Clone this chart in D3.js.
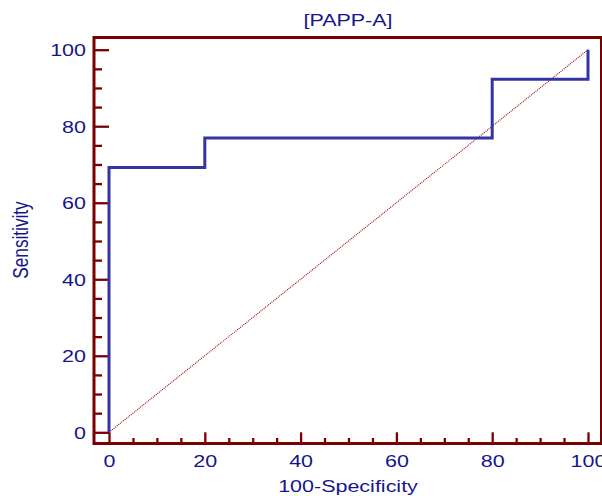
<!DOCTYPE html>
<html>
<head>
<meta charset="utf-8">
<script src="https://cdn.jsdelivr.net/npm/d3@7"></script>
<style>
  body { margin: 0; background: #fff; }
  text { font-family: "Liberation Sans", Arial, sans-serif; }
</style>
</head>
<body>
<div id="graph"></div>
<script>
// ROC curve points (100-Specificity, Sensitivity)
const specificity = [0, 0, 20, 20, 80, 80, 100, 100];
const sensitivity = [0, 69.2, 69.2, 76.9, 76.9, 92.3, 92.3, 100];
const majorTicks = [0, 20, 40, 60, 80, 100];
const minorTicks = [5, 10, 15, 25, 30, 35, 45, 50, 55, 65, 70, 75, 85, 90, 95];

const largeur = 602, hauteur = 496;
const axisColor = "#7a0000", textColor = "#16168a", rocColor = "#3535a2";
const sx = 1.25; // texte étiré horizontalement
const taille = "17.2px";

const svg = d3.select("#graph").append("svg")
    .attr("width", largeur)
    .attr("height", hauteur);

const echelleX = d3.scaleLinear().domain([0, 100]).range([109, 588]);
const echelleY = d3.scaleLinear().domain([0, 100]).range([432.3, 49.7]);

const frameLeft = 94, frameTop = 37.5, frameRight = 601.5, frameBottom = 443.5;

// cadre
svg.append("rect")
    .attr("x", frameLeft).attr("y", frameTop)
    .attr("width", frameRight - frameLeft)
    .attr("height", frameBottom - frameTop)
    .attr("fill", "none")
    .attr("stroke", axisColor)
    .attr("stroke-width", 3);

// axe Y : graduations vers l'intérieur
const axeYMajor = d3.axisLeft(echelleY).tickValues(majorTicks)
    .tickSizeInner(-(echelleX(0) - frameLeft)).tickSizeOuter(0).tickPadding(8);
const gy = svg.append("g").attr("transform", "translate(" + frameLeft + ",0)").call(axeYMajor);
const axeYMinor = d3.axisLeft(echelleY).tickValues(minorTicks)
    .tickSizeInner(-8).tickSizeOuter(0).tickFormat("");
const gy2 = svg.append("g").attr("transform", "translate(" + frameLeft + ",0)").call(axeYMinor);

// axe X : graduations vers le haut
const axeXMajor = d3.axisBottom(echelleX).tickValues(majorTicks)
    .tickSizeInner(-(frameBottom - echelleY(0))).tickSizeOuter(0).tickPadding(0);
const gx = svg.append("g").attr("transform", "translate(0," + frameBottom + ")").call(axeXMajor);
const axeXMinor = d3.axisBottom(echelleX).tickValues(minorTicks)
    .tickSizeInner(-5.5).tickSizeOuter(0).tickFormat("");
const gx2 = svg.append("g").attr("transform", "translate(0," + frameBottom + ")").call(axeXMinor);

[gy, gy2, gx, gx2].forEach(g => {
  g.select(".domain").remove();
  g.selectAll("line").attr("stroke", axisColor).attr("stroke-width", 2.3);
});

gy.selectAll("text")
    .attr("x", null).attr("dy", null)
    .attr("transform", "translate(-8,6) scale(" + sx + ",1)")
    .attr("fill", textColor)
    .style("font-size", taille);

gx.selectAll("text")
    .attr("y", null).attr("dy", null)
    .attr("transform", "translate(0,23.5) scale(" + sx + ",1)")
    .attr("fill", textColor)
    .style("font-size", taille);

// diagonale de référence
svg.append("line")
    .attr("x1", echelleX(0)).attr("y1", echelleY(0))
    .attr("x2", echelleX(100)).attr("y2", echelleY(100))
    .attr("stroke", "#9a0a0a")
    .attr("stroke-width", 1.1)
    .attr("stroke-dasharray", "1,1");

// courbe ROC
const ligne = d3.line()
    .x(d => echelleX(d[0]))
    .y(d => echelleY(d[1]));
svg.append("path")
    .datum(d3.zip(specificity, sensitivity))
    .attr("d", ligne)
    .attr("fill", "none")
    .attr("stroke", rocColor)
    .attr("stroke-width", 3);

// titres
svg.append("text")
    .attr("transform", "translate(348,26) scale(" + sx + ",1)")
    .attr("text-anchor", "middle")
    .attr("fill", textColor)
    .style("font-size", taille)
    .text("[PAPP-A]");

svg.append("text")
    .attr("transform", "translate(348,492) scale(" + sx + ",1)")
    .attr("text-anchor", "middle")
    .attr("fill", textColor)
    .style("font-size", taille)
    .text("100-Specificity");

svg.append("text")
    .attr("transform", "translate(28,240) scale(" + sx + ",1) rotate(-90)")
    .attr("text-anchor", "middle")
    .attr("fill", textColor)
    .style("font-size", taille)
    .text("Sensitivity");
</script>
</body>
</html>
